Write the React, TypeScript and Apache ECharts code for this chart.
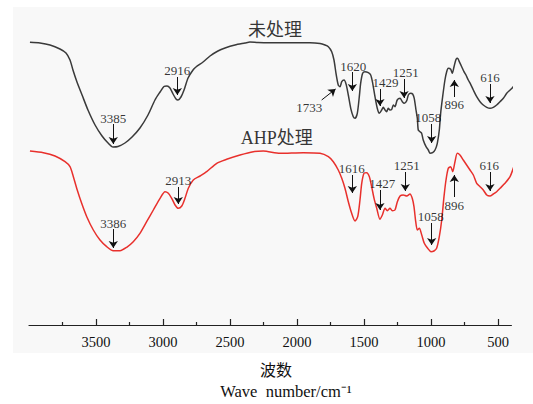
import React, { useEffect, useRef } from "react";
import * as echarts from "echarts";

// FTIR spectra: [wavenumber (cm-1), relative transmittance (a.u.)]
const untreatedSpectrum: [number, number][] = [
  [3993, 282.7], [3918, 282], [3843, 280], [3769, 276], [3724, 272], [3694, 265], [3672, 255], [3642, 243],
  [3604, 230], [3560, 215], [3507, 200], [3455, 189], [3410, 182], [3373, 178], [3336, 178.5], [3284, 182],
  [3231, 188], [3172, 197], [3112, 210], [3060, 225], [3022, 233], [2993, 238.5], [2970, 239], [2948, 237],
  [2925, 231], [2903, 226], [2888, 225], [2866, 228], [2843, 235], [2813, 247], [2776, 255], [2754, 258],
  [2701, 263], [2649, 269], [2590, 274], [2537, 277], [2463, 280], [2388, 282], [2351, 283], [2291, 282.5],
  [2201, 282.3], [2127, 282.3], [2015, 282.3], [1903, 282.3], [1828, 281.5], [1791, 280], [1766, 278.3],
  [1741, 273.3], [1724, 265], [1709, 251.7], [1692, 240], [1679, 238.3], [1666, 243.3], [1649, 245],
  [1634, 241], [1617, 230], [1599, 216.7], [1580, 208.3], [1567, 206.7], [1550, 211.7], [1535, 228.3],
  [1525, 241.7], [1510, 251.7], [1493, 253.3], [1468, 252.3], [1450, 250], [1435, 241.7], [1418, 228.3],
  [1401, 216.7], [1386, 211.7], [1368, 215], [1356, 217.7], [1343, 215], [1331, 213.3], [1319, 216.7],
  [1306, 215], [1293, 215.7], [1281, 220], [1269, 218.3], [1252, 225], [1231, 226.7], [1214, 223.3],
  [1199, 221.7], [1181, 224.3], [1169, 230], [1152, 231.7], [1137, 231], [1125, 226.7], [1112, 215],
  [1102, 206.7], [1095, 195], [1082, 193.3], [1070, 191.7], [1058, 185], [1037, 178.3], [1020, 175],
  [1008, 171.7], [988, 172.3], [970, 175], [953, 181.7], [938, 195], [928, 211.7], [913, 228.3],
  [896, 245], [883, 253.3], [871, 256.7], [853, 255.7], [841, 251.7], [828, 258.3], [813, 265.7],
  [801, 266.7], [789, 263.3], [771, 258.3], [754, 253.3], [739, 250], [722, 245], [704, 240.7],
  [684, 235], [659, 228.3], [634, 223.3], [610, 220], [584, 217.7], [560, 216.7], [535, 217.7],
  [510, 220], [485, 223.3], [460, 226.7], [435, 231.7], [410, 235], [386, 238.3], [361, 245], [336, 253.3],
];

const treatedSpectrum: [number, number][] = [
  [3993, 174], [3893, 172.3], [3806, 169], [3731, 163.3], [3694, 158.3], [3669, 148.3], [3640, 135],
  [3607, 121.7], [3569, 108.3], [3520, 95], [3470, 85], [3420, 78.3], [3371, 74.3], [3321, 74.3],
  [3271, 77.7], [3222, 83.3], [3172, 91.7], [3122, 103.3], [3072, 115], [3022, 126.7], [2985, 133.3],
  [2960, 131.7], [2935, 126.7], [2910, 120], [2886, 116.7], [2860, 119], [2836, 126.7], [2811, 136.7],
  [2774, 145], [2724, 149], [2674, 153.3], [2599, 161.7], [2525, 165.7], [2425, 170], [2326, 173.3],
  [2252, 174], [2127, 171.7], [1953, 172.3], [1828, 171.7], [1766, 168.3], [1729, 163.3], [1692, 155],
  [1666, 146.7], [1642, 136.7], [1617, 123.3], [1592, 111.7], [1567, 104], [1547, 108.3], [1530, 125],
  [1517, 141.7], [1500, 151.7], [1480, 152.3], [1460, 148.3], [1443, 138.3], [1425, 126.7], [1405, 116.7],
  [1381, 105.7], [1363, 110], [1343, 116.7], [1326, 114.3], [1306, 116.7], [1289, 114.3], [1269, 115],
  [1251, 123.3], [1231, 129], [1207, 130], [1181, 129], [1157, 131], [1140, 126.7], [1127, 118.3],
  [1114, 103.3], [1102, 95], [1087, 96.7], [1069, 90], [1050, 81.7], [1025, 76.7], [1000, 73.3],
  [978, 74], [958, 76.7], [938, 88.3], [920, 105], [903, 128.3], [888, 145], [871, 156.7], [853, 158.3],
  [838, 153.3], [821, 163.3], [804, 171.7], [784, 170], [759, 165], [734, 160], [709, 155], [684, 150],
  [659, 141.7], [634, 138.3], [610, 135], [584, 130], [560, 129], [535, 131], [510, 133.3], [485, 136.7],
  [448, 141.7], [410, 148.3], [373, 161.7], [348, 171.7], [336, 180],
];

const majorTicks = [3500, 3000, 2500, 2000, 1500, 1000, 500];
const minorTicks = [3750, 3250, 2750, 2250, 1750, 1250, 750];

// peak labels: [text, x, y]
const untreatedLabels: [string, number, number][] = [
  ["3385", 3371, 207], ["2916", 2893, 255], ["1733", 1908, 218], ["1620", 1580, 259],
  ["1429", 1340, 243], ["1251", 1189, 253], ["1058", 1020, 208], ["896", 826, 221], ["616", 560, 248],
];
const treatedLabels: [string, number, number][] = [
  ["3386", 3371, 102], ["2913", 2886, 145], ["1616", 1592, 157], ["1427", 1363, 142],
  ["1251", 1181, 160], ["1058", 1002, 109], ["896", 826, 120], ["616", 565, 160],
];
// arrows: [x0, y0, x1(tip), y1(tip)]
const untreatedArrows: [number, number, number, number][] = [
  [3371, 201, 3371, 181], [2893, 248, 2893, 230], [1816, 225, 1712, 236], [1587, 253, 1587, 234],
  [1381, 236, 1381, 219], [1201, 246, 1201, 227], [995, 201, 995, 182], [826, 228, 826, 245], [560, 241, 560, 222],
];
const treatedArrows: [number, number, number, number][] = [
  [3371, 96, 3371, 77], [2886, 138, 2886, 121], [1587, 150, 1587, 132], [1381, 135, 1381, 115],
  [1192, 153, 1192, 134], [995, 102, 995, 80], [826, 128, 826, 150], [560, 153, 560, 134],
];
const seriesTitles: [string, number, number][] = [
  ["未处理", 2164, 295],
  ["AHP处理", 2152, 187],
];

const SERIF = "Liberation Serif, serif";
const CJK = "Liberation Serif, Noto Sans CJK SC, serif";

export default function App() {
  const ref = useRef<HTMLDivElement>(null);
  useEffect(() => {
    if (!ref.current) return;
    const chart = echarts.init(ref.current, null, { renderer: "svg" });
    const labelData = [...untreatedLabels, ...treatedLabels].map(([t, x, y]) => ({ name: t, value: [x, y] }));
    const arrowData = [...untreatedArrows, ...treatedArrows].map(([x0, y0, x1, y1]) => ({
      coords: [[x0, y0], [x1, y1]],
    }));
    const option: any = {
      animation: false,
      graphic: [
        { type: "rect", z: -10, shape: { x: 13, y: 7, width: 520, height: 346 }, style: { fill: "#f8f8f8" }, silent: true },
        { type: "text", x: 276, y: 369, style: { text: "波数", fontFamily: "Noto Sans CJK SC", fontSize: 16, fill: "#111", align: "center", verticalAlign: "middle" } },
        { type: "text", x: 286, y: 391, style: { text: "Wave  number/cm⁻¹", fontFamily: SERIF, fontSize: 16.5, fill: "#111", align: "center", verticalAlign: "middle" } },
      ],
      grid: { left: 29, right: 21.6, top: 20, bottom: 79 },
      xAxis: [
        {
          type: "value", min: 400, max: 4000, inverse: true, position: "bottom",
          splitLine: { show: false },
          axisLine: { lineStyle: { color: "#222", width: 1.2 } },
          axisTick: { inside: true, length: 6, customValues: majorTicks, lineStyle: { color: "#222", width: 1.2 } },
          axisLabel: {
            customValues: majorTicks, margin: 9, color: "#111", fontFamily: SERIF, fontSize: 14.5,
            formatter: (v: number) => String(v),
          },
        },
        {
          type: "value", min: 400, max: 4000, inverse: true, position: "bottom",
          splitLine: { show: false },
          axisLine: { show: false },
          axisTick: { inside: true, length: 3, customValues: minorTicks, lineStyle: { color: "#222", width: 1.2 } },
          axisLabel: { show: false },
        },
      ],
      yAxis: { type: "value", min: 0, max: 305, show: false },
      series: [
        {
          type: "line", name: "未处理", data: untreatedSpectrum, symbol: "none", smooth: 0.25, clip: false,
          lineStyle: { color: "#3a3a3a", width: 1.5 },
        },
        {
          type: "line", name: "AHP处理", data: treatedSpectrum, symbol: "none", smooth: 0.25, clip: false,
          lineStyle: { color: "#e8302c", width: 1.5 },
        },
        {
          type: "lines", coordinateSystem: "cartesian2d", data: arrowData, symbol: ["none", "arrow"], symbolSize: 7,
          lineStyle: { color: "#111", width: 1, opacity: 1 }, z: 5,
        },
        {
          type: "scatter", data: labelData, symbolSize: 0, itemStyle: { color: "#000" }, z: 6,
          label: {
            show: true, position: "inside", formatter: "{b}", color: "#000", textBorderWidth: 0,
            fontFamily: SERIF, fontSize: 13,
          },
        },
        {
          type: "scatter", data: seriesTitles.map(([t, x, y]) => ({ name: t, value: [x, y] })), symbolSize: 0,
          itemStyle: { color: "#000" }, z: 6,
          label: {
            show: true, position: "inside", formatter: "{b}", color: "#000", textBorderWidth: 0,
            fontFamily: CJK, fontSize: 18,
          },
        },
      ],
    };
    chart.setOption(option);
    return () => chart.dispose();
  }, []);
  return <div ref={ref} style={{ position: "absolute", left: 0, top: 0, width: 533, height: 404 }} />;
}
